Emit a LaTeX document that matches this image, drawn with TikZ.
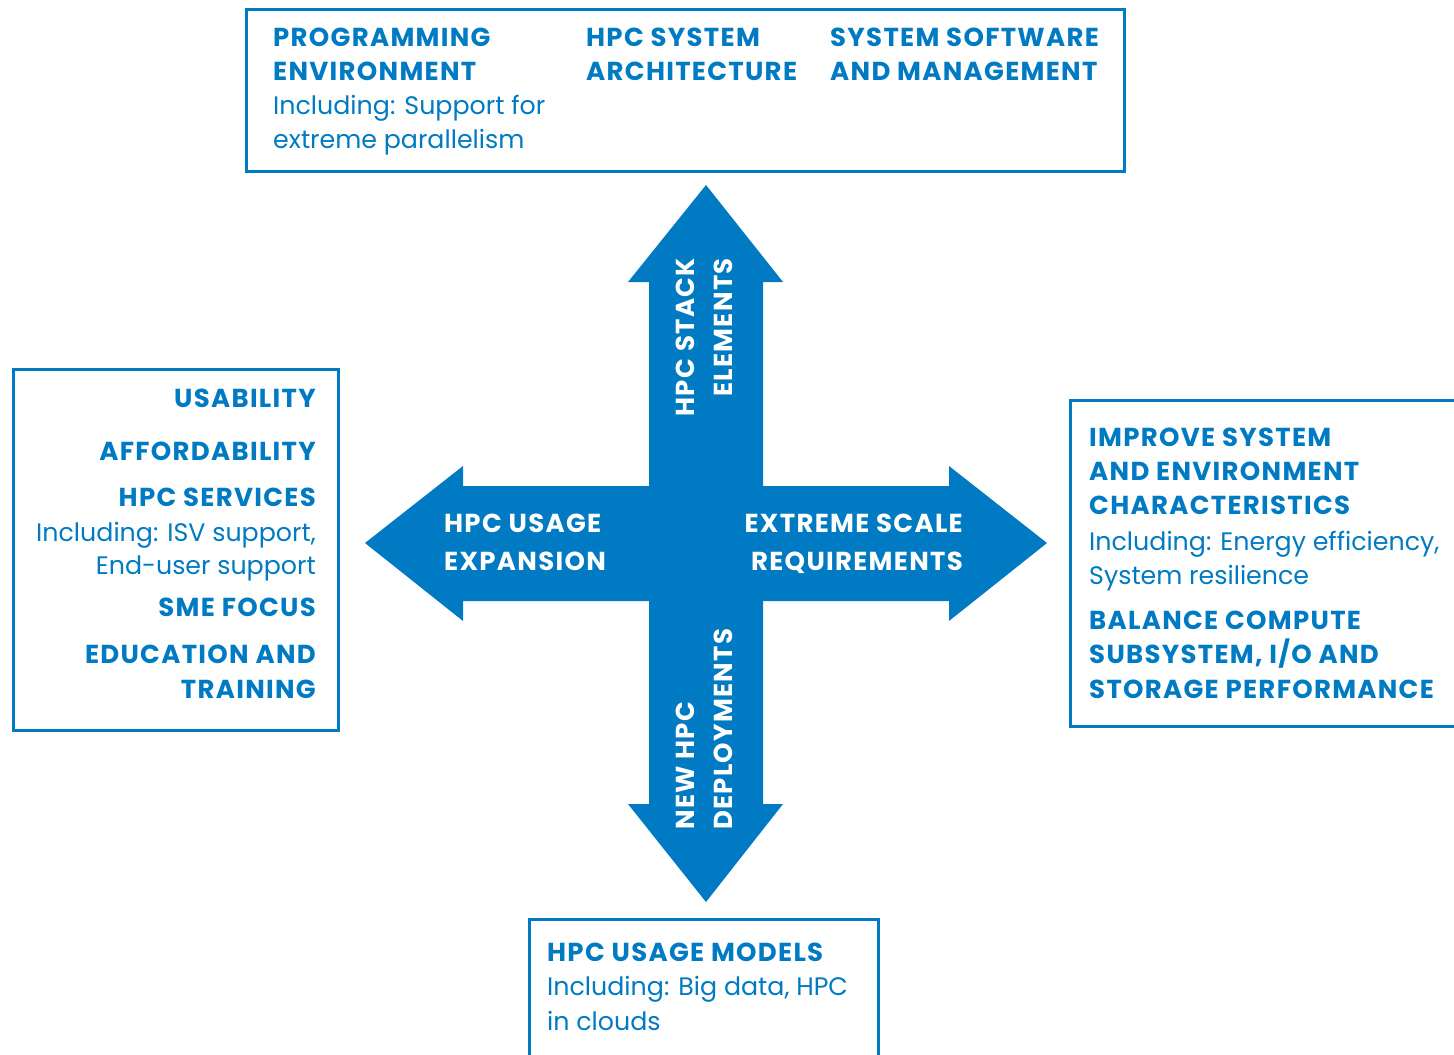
\documentclass[tikz,border=0pt]{standalone}
\usepackage{fontspec}
\setmainfont{Poppins}[BoldFeatures={LetterSpace=5}]
\usetikzlibrary{positioning}
\definecolor{hpcblue}{RGB}{0,122,194}
% lighter sub-lines under a heading
\newcommand{\incl}[1]{{\mdseries\fontsize{25.3}{34}\selectfont #1}}

\begin{document}
\begin{tikzpicture}[x=1pt, y=-1pt,
	every node/.style={inner sep=0pt,
					   font=\fontsize{26}{34}\selectfont\bfseries
					   },
	box/.style={draw=hpcblue, line width=3pt, anchor=north west},
	topic/.style={text=hpcblue},
	armtext/.style={text=white,
					font=\fontsize{26}{38}\selectfont\bfseries
	}
]
	\useasboundingbox (0,0) rectangle (1454,1055);

	% the four-way arrow
	\fill[hpcblue] (706,185) -- (783,282) -- (763,282) -- (763,486)
		-- (949,486) -- (949,466) -- (1047,543) -- (949,621) -- (949,601)
		-- (763,601) -- (763,804) -- (783,804) -- (706,902) -- (628,804)
		-- (649,804) -- (649,601) -- (463,601) -- (463,621) -- (365,543)
		-- (463,466) -- (463,486) -- (649,486) -- (649,282) -- (628,282) -- cycle;

	\node (stack) [armtext, rotate=90, anchor=east, align=right] at (704,258) {HPC STACK\\ELEMENTS};
	\node (deploy) [armtext, rotate=90, anchor=west, align=left] at (704,830) {NEW HPC\\DEPLOYMENTS};
	\node (expansion) [armtext, anchor=north west, align=left] at (444,514) {HPC USAGE\\EXPANSION};
	\node (extreme) [armtext, anchor=north east, align=right] at (963,514) {EXTREME SCALE\\REQUIREMENTS};

	% boxes
	\node (stackbox) [box, minimum width=878pt, minimum height=162pt] at (245,8) {};
	\node (usagebox) [box, minimum width=325pt, minimum height=361pt] at (12,368) {};
	\node (scalebox) [box, minimum width=400pt, minimum height=326pt] at (1069,399) {};
	\node (modelbox) [box, minimum width=349pt, minimum height=150pt] at (528,918) {};

	% top box
	\node (progenv) [topic, anchor=north west, align=left] at (273,28)
		{PROGRAMMING\\ENVIRONMENT\\\incl{Including: Support for}\\\incl{extreme parallelism}};
	\node (sysarch) [topic, anchor=north west, align=left] at (586,28) {HPC SYSTEM\\ARCHITECTURE};
	\node (syssoft) [topic, anchor=north west, align=left] at (830,28) {SYSTEM SOFTWARE\\AND MANAGEMENT};

	% left box
	\node (usage) [topic, anchor=north east, align=right] at (316,389)
		{USABILITY\\[19pt]AFFORDABILITY\\[12pt]HPC SERVICES\\[1pt]\incl{Including: ISV support,}\\[-1pt]\incl{End-user support}\\[8pt]SME FOCUS\\[13pt]EDUCATION AND\\[1pt]TRAINING};

	% right box
	\node (improve) [topic, anchor=north west, align=left] at (1089,428)
		{IMPROVE SYSTEM\\AND ENVIRONMENT\\CHARACTERISTICS\\[2pt]\incl{Including: Energy efficiency,}\\\incl{System resilience}\\[11pt]BALANCE COMPUTE\\SUBSYSTEM, I/O AND\\[1pt]STORAGE PERFORMANCE};

	% bottom box
	\node (models) [topic, anchor=north west, align=left] at (547,943)
		{HPC USAGE MODELS\\\incl{Including: Big data, HPC}\\[1pt]\incl{in clouds}};
\end{tikzpicture}
\end{document}
